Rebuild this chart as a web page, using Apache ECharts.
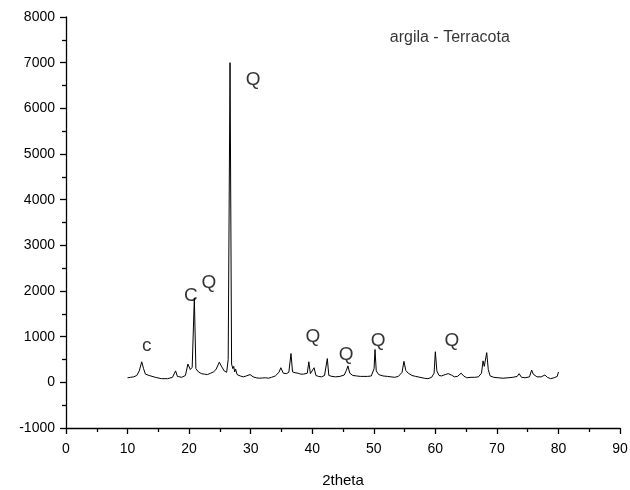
<!DOCTYPE html>
<html><head><meta charset="utf-8">
<script src="https://cdn.jsdelivr.net/npm/echarts@6/dist/echarts.min.js"></script>
<style>html,body{margin:0;padding:0;background:#fff}#c{width:630px;height:490px}</style>
</head><body><div id="c"></div>
<script>
const twoTheta = [10.0,10.5,11.0,11.5,11.9,12.3,12.6,12.9,13.5,14.5,15.5,16.5,17.3,17.8,18.1,18.8,19.4,19.8,20.2,20.5,20.85,21.1,21.5,22.0,22.5,23.0,23.5,24.0,24.4,24.9,25.3,25.7,26.1,26.35,26.65,26.9,27.1,27.25,27.4,27.55,27.8,28.3,28.8,29.3,29.9,30.4,30.9,31.2,31.4,31.7,31.9,32.2,32.4,32.7,32.9,33.2,33.4,33.7,34.0,34.6,34.9,35.3,35.8,36.2,36.55,36.8,37.2,37.7,38.1,38.6,39.2,39.45,39.7,40.0,40.3,40.6,41.0,41.5,42.0,42.45,42.7,43.2,43.8,44.5,45.2,45.55,45.8,46.1,46.6,47.2,47.8,48.4,49.0,49.6,50.05,50.2,50.4,50.8,51.5,52.2,52.8,53.4,54.0,54.6,54.9,55.2,55.6,56.2,56.8,57.5,58.2,58.8,59.4,59.8,60.0,60.25,60.6,61.0,61.6,62.1,62.6,63.1,63.6,64.2,64.6,65.1,65.8,66.4,67.0,67.5,67.75,67.95,68.35,68.6,68.9,69.5,70.2,71.0,71.8,72.6,73.3,73.6,74.0,74.6,75.3,75.65,75.9,76.5,77.2,77.8,78.2,78.7,79.3,79.8,80.0];
const intensity = [100,110,120,150,250,450,300,180,150,110,80,80,110,250,130,110,150,400,280,330,1850,300,230,190,180,170,200,230,290,440,340,250,220,500,7000,400,300,350,230,290,170,140,120,140,170,120,100,140,90,130,95,135,100,125,90,130,110,145,140,220,320,200,190,220,630,230,210,200,180,180,200,450,190,170,320,150,130,120,150,520,150,130,120,130,160,260,360,200,150,140,130,130,130,140,300,720,250,170,140,130,120,110,130,220,460,260,200,150,130,110,90,80,110,200,670,250,150,140,170,190,160,120,130,200,140,100,110,110,120,200,470,350,650,280,140,110,100,90,100,110,130,190,110,100,120,270,180,120,120,160,110,80,100,130,225];
const peakLabels = ["c","C","Q","Q","Q","Q","Q","Q"];
const labelX = [13.1,20.3,23.2,30.4,40.1,45.5,50.7,62.7];
const labelY = [800,1900,2180,6620,1000,600,910,910];
const sampleName = "argila - Terracota";
const xTicks = {min:0,max:90,interval:10};
const yTicks = {min:-1000,max:8000,interval:1000};

const font = "Liberation Sans, Arial, sans-serif";
const chart = echarts.init(document.getElementById('c'));
chart.setOption({
  animation:false,
  backgroundColor:'#fff',
  grid:{left:66,top:17,right:10,bottom:62,containLabel:false,outerBoundsMode:'none'},
  xAxis:{type:'value',min:xTicks.min,max:xTicks.max,interval:xTicks.interval,
    name:'2theta',nameLocation:'middle',nameGap:45,
    nameTextStyle:{color:'#000',fontSize:15,fontFamily:font},
    axisLine:{onZero:false,lineStyle:{color:'#000',width:1.3}},
    axisTick:{show:true,length:6,lineStyle:{color:'#000',width:1.3}},
    minorTick:{show:true,splitNumber:2,length:4,lineStyle:{color:'#000',width:1.3}},
    splitLine:{show:false},
    axisLabel:{color:'#000',fontSize:14,fontFamily:font,margin:14,formatter:v=>String(v)}},
  yAxis:{type:'value',min:yTicks.min,max:yTicks.max,interval:yTicks.interval,
    axisLine:{show:true,onZero:false,lineStyle:{color:'#000',width:1.3}},
    axisTick:{show:true,length:6,lineStyle:{color:'#000',width:1.3}},
    minorTick:{show:true,splitNumber:2,length:4,lineStyle:{color:'#000',width:1.3}},
    splitLine:{show:false},
    axisLabel:{color:'#000',fontSize:14,fontFamily:font,margin:11,formatter:v=>String(v)}},
  series:[
    {type:'line',data:twoTheta.map((x,i)=>[x,intensity[i]]),showSymbol:false,
     lineStyle:{color:'#000',width:1},silent:true},
    {type:'scatter',symbolSize:0,silent:true,
     data:labelX.map((x,i)=>({value:[x,labelY[i]],name:peakLabels[i]})),
     label:{show:true,position:'inside',formatter:p=>p.name,color:'#000',fontSize:19,fontFamily:font}},
    {type:'scatter',symbolSize:0,silent:true,
     data:[{value:[52.6,7540],name:sampleName}],
     label:{show:true,position:'right',distance:0,formatter:p=>p.name,color:'#000',fontSize:16,fontFamily:font}}
  ]
});
</script></body></html>
